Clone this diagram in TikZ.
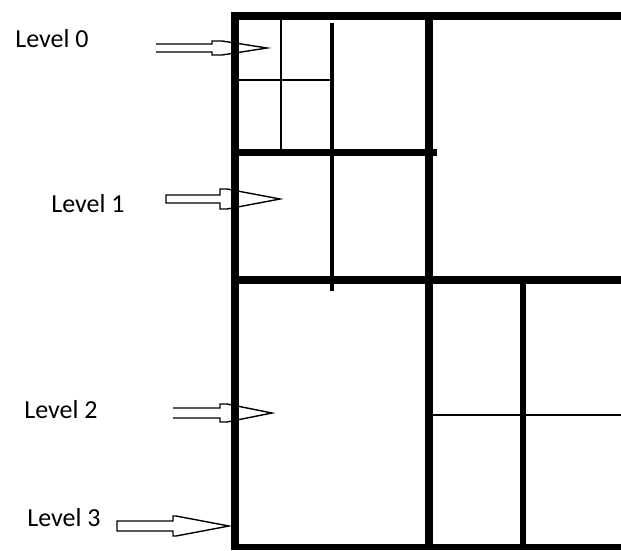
\documentclass[tikz,border=0pt]{standalone}
\usepackage{fontspec}
\setmainfont{Carlito}
\usepackage{tikz}

\begin{document}
\begin{tikzpicture}[x=1pt,y=-1pt,
  lvl/.style={font=\fontsize{26}{30}\selectfont, text=black, inner sep=0pt},
  blockarrow/.style={draw=black, line width=1.4pt, fill=white, line join=miter},
  heavy/.style={line width=8pt},
  medium/.style={line width=4.5pt},
  thin/.style={line width=2.5pt}]
\useasboundingbox (0,0) rectangle (621,550);
\node[lvl] (lvl0) at (52,39) {Level 0};
\node[lvl] (lvl1) at (88,204) {Level 1};
\node[lvl] (lvl2) at (61,410) {Level 2};
\node[lvl] (lvl3) at (64,518) {Level 3};
\draw[blockarrow] (156,44) -- (212,44) -- (212,41) -- (222,41) -- (267,48) -- (222,55) -- (212,55) -- (212,52) -- (156,52);
\draw[blockarrow] (166,195) -- (220,195) -- (220,189) -- (227,189) -- (280,199) -- (227,209) -- (220,209) -- (220,203) -- (166,203) -- cycle;
\draw[blockarrow] (173,408) -- (220,408) -- (220,404) -- (227,404) -- (272,413) -- (227,422) -- (220,422) -- (220,418) -- (173,418);
\draw[blockarrow] (117,521) -- (173,521) -- (173,516) -- (176,516) -- (229,526) -- (176,536) -- (173,536) -- (173,531) -- (117,531) -- cycle;
\draw[thin] (235,80) -- (330,80);
\draw[thin] (281,16) -- (281,152);
\draw[thin] (429,415) -- (621,415);
\draw[medium] (332,23) -- (332,291);
\draw[line width=6.5pt] (523,284) -- (523,547);
\draw[line width=7pt] (235,152) -- (437,152);
\draw[heavy] (235,280) -- (621,280);
\draw[heavy] (429,12) -- (429,547);
\draw[heavy] (231,16) -- (621,16);
\draw[heavy] (235,12) -- (235,550);
\draw[line width=6pt] (231,547) -- (621,547);
\end{tikzpicture}
\end{document}
